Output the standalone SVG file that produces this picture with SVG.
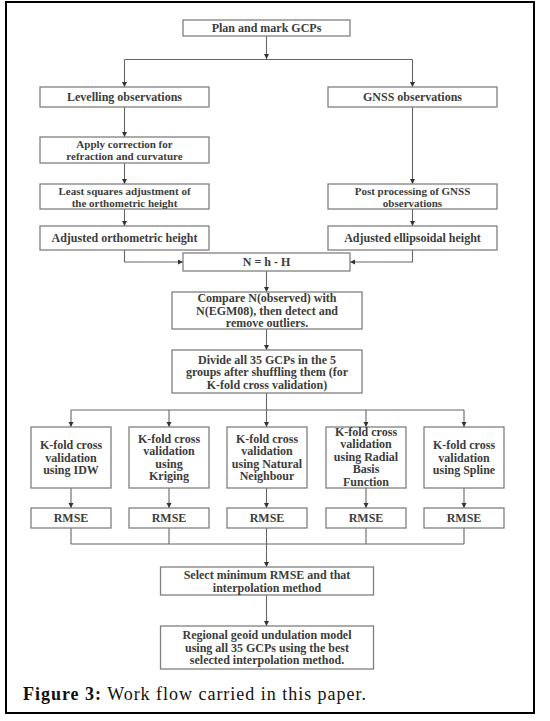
<svg xmlns="http://www.w3.org/2000/svg" width="550" height="721" viewBox="0 0 550 721">
<defs>
<marker id="ah" markerWidth="6" markerHeight="6" refX="5" refY="3" orient="auto" markerUnits="userSpaceOnUse">
<path d="M0,0.5 L5,3 L0,5.5 Z" fill="#333"/>
</marker>
<style>
.b{fill:#fff;stroke:#808080;stroke-width:1.3}
.t{font-family:"Liberation Serif",serif;font-weight:bold;font-size:12px;fill:#3c3c3c;text-anchor:middle}
.s{font-size:11px}
.c{fill:none;stroke:#666;stroke-width:1.1}
.a{marker-end:url(#ah)}
</style>
</defs>
<rect x="0" y="0" width="550" height="721" fill="#fff"/>
<rect x="6" y="2" width="528" height="711" fill="none" stroke="#000" stroke-width="2"/>

<g id="connectors">
<path class="c a" d="M266.5,36 V59"/>
<path class="c" d="M124.5,59.5 H412.5"/>
<path class="c a" d="M124.5,59.5 V87"/>
<path class="c a" d="M412.5,59.5 V87"/>
<path class="c a" d="M124.5,107 V137"/>
<path class="c a" d="M124.5,163 V184"/>
<path class="c a" d="M124.5,209 V226"/>
<path class="c a" d="M124.5,250 V262 H183"/>
<path class="c a" d="M412.5,107 V184"/>
<path class="c a" d="M412.5,209 V226"/>
<path class="c a" d="M412.5,250 V262 H350"/>
<path class="c a" d="M266.5,271 V292"/>
<path class="c a" d="M266.5,329 V350"/>
<path class="c a" d="M266.5,393 V427"/>
<path class="c" d="M71,410 H464"/>
<path class="c a" d="M71,410 V427"/>
<path class="c a" d="M169,410 V427"/>
<path class="c a" d="M366,410 V427"/>
<path class="c a" d="M464,410 V427"/>
<path class="c a" d="M71,488 V508"/>
<path class="c a" d="M169,488 V508"/>
<path class="c a" d="M266.5,488 V508"/>
<path class="c a" d="M366,488 V508"/>
<path class="c a" d="M464,488 V508"/>
<path class="c" d="M71,528 V544 M169,528 V544 M266.5,528 V544 M366,528 V544 M464,528 V544 M71,544 H464"/>
<path class="c a" d="M266.5,544 V567"/>
<path class="c a" d="M266.5,595 V626"/>
</g>

<g id="plan"><rect class="b" x="183" y="20" width="167" height="16"/><text class="t" x="266.5" y="32">Plan and mark GCPs</text></g>
<g id="levelling"><rect class="b" x="40" y="87" width="169" height="20"/><text class="t" x="124.5" y="101">Levelling observations</text></g>
<g id="gnss"><rect class="b" x="328" y="87" width="169" height="20"/><text class="t" x="412.5" y="101">GNSS observations</text></g>
<g id="apply"><rect class="b" x="40" y="137" width="169" height="26"/><text class="t s" x="124.5" y="147.5">Apply correction for</text><text class="t s" x="124.5" y="159.5">refraction and curvature</text></g>
<g id="least"><rect class="b" x="40" y="184" width="169" height="25"/><text class="t s" x="124.5" y="194.5">Least squares adjustment of</text><text class="t s" x="124.5" y="206.5">the orthometric height</text></g>
<g id="post"><rect class="b" x="328" y="184" width="169" height="25"/><text class="t s" x="412.5" y="194.5">Post processing of GNSS</text><text class="t s" x="412.5" y="206.5">observations</text></g>
<g id="adjortho"><rect class="b" x="40" y="226" width="169" height="24"/><text class="t" x="124.5" y="242">Adjusted orthometric height</text></g>
<g id="adjellip"><rect class="b" x="328" y="226" width="169" height="24"/><text class="t" x="412.5" y="242">Adjusted ellipsoidal height</text></g>
<g id="nhh"><rect class="b" x="183" y="253" width="167" height="18"/><text class="t" x="266.5" y="266">N = h - H</text></g>
<g id="compare"><rect class="b" x="172" y="292" width="190" height="37"/><text class="t" x="267" y="302">Compare N(observed) with</text><text class="t" x="267" y="314.5">N(EGM08), then detect and</text><text class="t" x="267" y="327">remove outliers.</text></g>
<g id="divide"><rect class="b" x="172" y="350" width="190" height="43"/><text class="t" x="267" y="363.5">Divide all 35 GCPs in the 5</text><text class="t" x="267" y="376">groups after shuffling them (for</text><text class="t" x="267" y="388.5">K-fold cross validation)</text></g>

<g id="idw"><rect class="b" x="31" y="427" width="80" height="61"/><text class="t" x="71" y="449">K-fold cross</text><text class="t" x="71" y="461.5">validation</text><text class="t" x="71" y="474">using IDW</text></g>
<g id="kriging"><rect class="b" x="129" y="427" width="80" height="61"/><text class="t" x="169" y="442.5">K-fold cross</text><text class="t" x="169" y="455">validation</text><text class="t" x="169" y="467.5">using</text><text class="t" x="169" y="480">Kriging</text></g>
<g id="natural"><rect class="b" x="227" y="427" width="80" height="61"/><text class="t" x="267" y="442.5">K-fold cross</text><text class="t" x="267" y="455">validation</text><text class="t" x="267" y="467.5">using Natural</text><text class="t" x="267" y="480">Neighbour</text></g>
<g id="radial"><rect class="b" x="326" y="427" width="80" height="61"/><text class="t" x="366" y="435.5">K-fold cross</text><text class="t" x="366" y="448">validation</text><text class="t" x="366" y="460.5">using Radial</text><text class="t" x="366" y="473">Basis</text><text class="t" x="366" y="485.5">Function</text></g>
<g id="spline"><rect class="b" x="424" y="427" width="80" height="61"/><text class="t" x="464" y="449">K-fold cross</text><text class="t" x="464" y="461.5">validation</text><text class="t" x="464" y="474">using Spline</text></g>

<g id="rmse1"><rect class="b" x="31" y="508" width="80" height="20"/><text class="t" x="71" y="522">RMSE</text></g>
<g id="rmse2"><rect class="b" x="129" y="508" width="80" height="20"/><text class="t" x="169" y="522">RMSE</text></g>
<g id="rmse3"><rect class="b" x="227" y="508" width="80" height="20"/><text class="t" x="267" y="522">RMSE</text></g>
<g id="rmse4"><rect class="b" x="326" y="508" width="80" height="20"/><text class="t" x="366" y="522">RMSE</text></g>
<g id="rmse5"><rect class="b" x="424" y="508" width="80" height="20"/><text class="t" x="464" y="522">RMSE</text></g>

<g id="select"><rect class="b" x="160.5" y="567" width="213" height="28"/><text class="t" x="267" y="579">Select minimum RMSE and that</text><text class="t" x="267" y="591.5">interpolation method</text></g>
<g id="regional"><rect class="b" x="160.5" y="626" width="213" height="43"/><text class="t" x="267" y="639">Regional geoid undulation model</text><text class="t" x="267" y="651.5">using all 35 GCPs using the best</text><text class="t" x="267" y="664">selected interpolation method.</text></g>

<text x="23" y="700" font-family="Liberation Serif, serif" font-size="18" fill="#111" textLength="343" lengthAdjust="spacing"><tspan font-weight="bold">Figure 3:</tspan> Work flow carried in this paper.</text>
</svg>
